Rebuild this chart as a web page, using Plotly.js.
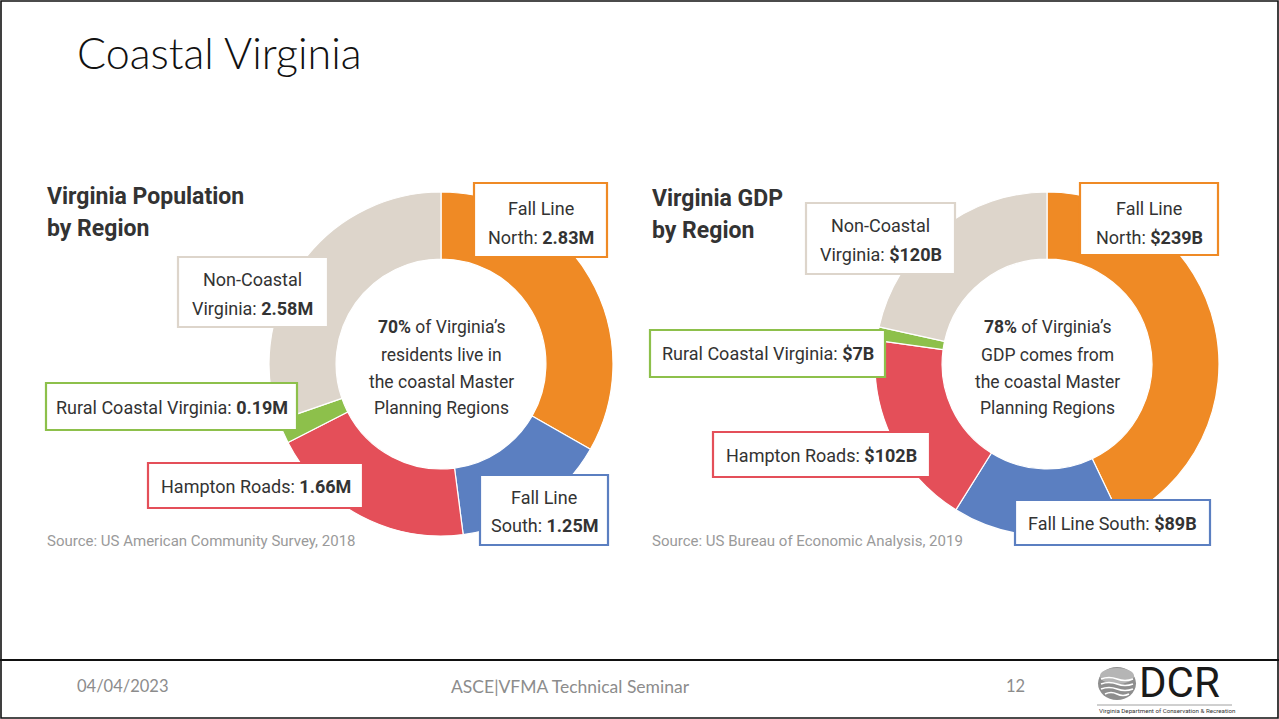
<!DOCTYPE html>
<html>
<head>
<meta charset="utf-8">
<script src="https://cdn.plot.ly/plotly-3.0.1.min.js"></script>
<style>html,body{margin:0;padding:0;background:#fff;}#chart{width:1279px;height:719px;}</style>
</head>
<body>
<div id="chart"></div>
<script>
// ---------------- DATA ----------------
const regions = ['Fall Line North', 'Fall Line South', 'Hampton Roads', 'Rural Coastal Virginia', 'Non-Coastal Virginia'];
const isCoastal = [true, true, true, true, false];
const popValues = [2.83, 1.25, 1.66, 0.19, 2.58];   // millions of residents
const gdpValues = [239, 89, 102, 7, 120];            // billions of dollars
const popTitle = ['Virginia Population', 'by Region'];
const gdpTitle = ['Virginia GDP', 'by Region'];
const popSource = 'Source: US American Community Survey, 2018';
const gdpSource = 'Source: US Bureau of Economic Analysis, 2019';
const popCenterTail = [' of Virginia’s', 'residents live in', 'the coastal Master', 'Planning Regions'];
const gdpCenterTail = [' of Virginia’s', 'GDP comes from', 'the coastal Master', 'Planning Regions'];
const slideTitle = 'Coastal Virginia';
const footerDate = '04/04/2023';
const footerCenter = 'ASCE|VFMA Technical Seminar';
const footerPage = '12';

// ---------------- STYLE / LAYOUT ----------------
const W = 1279, H = 719;
const X = p => p / W, Y = p => 1 - p / H;
const sliceColors = ['#EF8A25', '#5B7FC1', '#E44F59', '#8DC04B', '#DDD5CB'];
const TXT = '#333333';
const FONT = 'Roboto, "Liberation Sans", sans-serif';
const fmtPop = v => v.toFixed(2) + 'M';
const fmtGdp = v => '$' + v + 'B';
const pct = vals => Math.round(100 * vals.reduce((s, v, i) => s + (isCoastal[i] ? v : 0), 0) / vals.reduce((s, v) => s + v, 0));

const charts = [
  {values: popValues, fmt: fmtPop, title: popTitle, source: popSource, center: popCenterTail,
   cx: 441, cy: 364, r: 172, tx: 45, titleY: [196, 229], srcY: 541,
   boxes: [
     {i: 0, x0: 474, x1: 607, y0: 183, y1: 257, lines: [['Fall Line', 208], ['North: ', 238]]},
     {i: 4, x0: 178, x1: 328, y0: 257, y1: 327, lines: [['Non-Coastal', 280], ['Virginia: ', 308]]},
     {i: 3, x0: 46, x1: 297, y0: 383, y1: 430, lines: [['Rural Coastal Virginia: ', 407]]},
     {i: 2, x0: 148, x1: 363, y0: 463, y1: 508, lines: [['Hampton Roads: ', 486]]},
     {i: 1, x0: 480, x1: 608, y0: 475, y1: 545, lines: [['Fall Line', 497], ['South: ', 525]]}
   ]},
  {values: gdpValues, fmt: fmtGdp, title: gdpTitle, source: gdpSource, center: gdpCenterTail,
   cx: 1047, cy: 364, r: 172, tx: 650, titleY: [198, 231], srcY: 541,
   boxes: [
     {i: 0, x0: 1080, x1: 1218, y0: 183, y1: 255, lines: [['Fall Line', 208], ['North: ', 238]]},
     {i: 4, x0: 806, x1: 955, y0: 203, y1: 274, lines: [['Non-Coastal', 226], ['Virginia: ', 255]]},
     {i: 3, x0: 650, x1: 885, y0: 330, y1: 377, lines: [['Rural Coastal Virginia: ', 354]]},
     {i: 2, x0: 713, x1: 930, y0: 432, y1: 477, lines: [['Hampton Roads: ', 455]]},
     {i: 1, x0: 1015, x1: 1210, y0: 500, y1: 545, lines: [['Fall Line South: ', 523]]}
   ]}
];

const traces = [];
const annotations = [];
const shapes = [];

function txt(x, y, text, size, color, opts) {
  annotations.push(Object.assign({
    xref: 'paper', yref: 'paper', x: X(x), y: Y(y), text: text, showarrow: false,
    xanchor: 'center', yanchor: 'middle',
    font: {family: FONT, size: size, color: color}
  }, opts || {}));
}

charts.forEach(c => {
  traces.push({
    type: 'pie', labels: regions, values: c.values, sort: false, direction: 'clockwise', rotation: 0,
    hole: 0.61, textinfo: 'none', hoverinfo: 'label+value',
    marker: {colors: sliceColors, line: {color: '#ffffff', width: 1.2}},
    domain: {x: [X(c.cx - c.r), X(c.cx + c.r)], y: [Y(c.cy + c.r), Y(c.cy - c.r)]}
  });
  c.title.forEach((t, k) => txt(c.tx, c.titleY[k], '<b>' + t + '</b>', 23, TXT, {xanchor: 'left'}));
  txt(c.tx, c.srcY, c.source, 15, '#9A9A9A', {xanchor: 'left'});
  const p = pct(c.values);
  const cyLines = [327, 355, 382, 408];
  c.center.forEach((t, k) => txt(c.cx, cyLines[k], (k === 0 ? '<b>' + p + '%</b>' : '') + t, 17.5, TXT));
  c.boxes.forEach(b => {
    shapes.push({type: 'rect', xref: 'paper', yref: 'paper', x0: X(b.x0), x1: X(b.x1), y0: Y(b.y1), y1: Y(b.y0),
      fillcolor: '#ffffff', line: {color: sliceColors[b.i], width: 2.2}, layer: 'above'});
    b.lines.forEach((ln, k) => {
      const last = k === b.lines.length - 1;
      txt((b.x0 + b.x1) / 2, ln[1], ln[0] + (last ? '<b>' + c.fmt(c.values[b.i]) + '</b>' : ''), 18, TXT);
    });
  });
});

// slide frame
shapes.push({type: 'rect', xref: 'paper', yref: 'paper', x0: X(1), x1: X(1278), y0: Y(718), y1: Y(1),
  line: {color: '#111', width: 1.6}, fillcolor: 'rgba(0,0,0,0)', layer: 'above'});
shapes.push({type: 'line', xref: 'paper', yref: 'paper', x0: 0, x1: 1, y0: Y(660), y1: Y(660),
  line: {color: '#111', width: 2}, layer: 'above'});

// slide title + footer
const LATO = 'Lato, sans-serif';
txt(75, 53, slideTitle, 43, '#111', {xanchor: 'left', font: {family: LATO, size: 43, color: '#111', weight: 300}});
txt(75, 686, footerDate, 16, '#8C8C8C', {xanchor: 'left', font: {family: LATO, size: 16.5, color: '#8C8C8C'}});
txt(570, 686, footerCenter, 17, '#8C8C8C', {font: {family: LATO, size: 17.5, color: '#8C8C8C'}});
txt(1015, 686, footerPage, 16, '#8C8C8C', {font: {family: LATO, size: 16.5, color: '#8C8C8C'}});

// DCR logo
shapes.push({type: 'circle', xref: 'paper', yref: 'paper', x0: X(1098), x1: X(1136), y0: Y(700), y1: Y(667),
  fillcolor: '#8E8E8E', line: {width: 0}, layer: 'above'});
shapes.push({type: 'circle', xref: 'paper', yref: 'paper', x0: X(1100), x1: X(1134), y0: Y(684), y1: Y(668),
  fillcolor: '#B5B5B5', line: {width: 0}, layer: 'above'});
[679, 684, 689, 694].forEach((wy, k) => {
  const a = 1101 + (k === 3 ? 4 : 0), e = 1133 - (k === 3 ? 4 : 0), m = (a + e) / 2, q = (e - a) / 4;
  shapes.push({type: 'path', xref: 'paper', yref: 'paper',
    path: 'M ' + X(a) + ',' + Y(wy) + ' Q ' + X(a + q) + ',' + Y(wy - 3) + ' ' + X(m) + ',' + Y(wy) + ' T ' + X(e) + ',' + Y(wy),
    line: {color: '#ffffff', width: 1.6}, layer: 'above'});
});
txt(1137, 682, 'DCR', 42, '#1A1A1A', {xanchor: 'left', font: {family: '"Liberation Sans Narrow", Roboto, sans-serif', size: 42, color: '#1A1A1A'}});
shapes.push({type: 'line', xref: 'paper', yref: 'paper', x0: X(1097), x1: X(1232), y0: Y(705), y1: Y(705),
  line: {color: '#888', width: 0.8}, layer: 'above'});
txt(1097, 711, 'Virginia Department of Conservation &amp; Recreation', 6, '#333', {xanchor: 'left', font: {family: '"Liberation Sans Narrow", Roboto, sans-serif', size: 6.2, color: '#333'}});

const layout = {
  width: W, height: H, margin: {l: 0, r: 0, t: 0, b: 0}, paper_bgcolor: '#ffffff',
  showlegend: false, annotations: annotations, shapes: shapes
};
Plotly.newPlot('chart', traces, layout, {displayModeBar: false, staticPlot: true});
</script>
</body>
</html>
